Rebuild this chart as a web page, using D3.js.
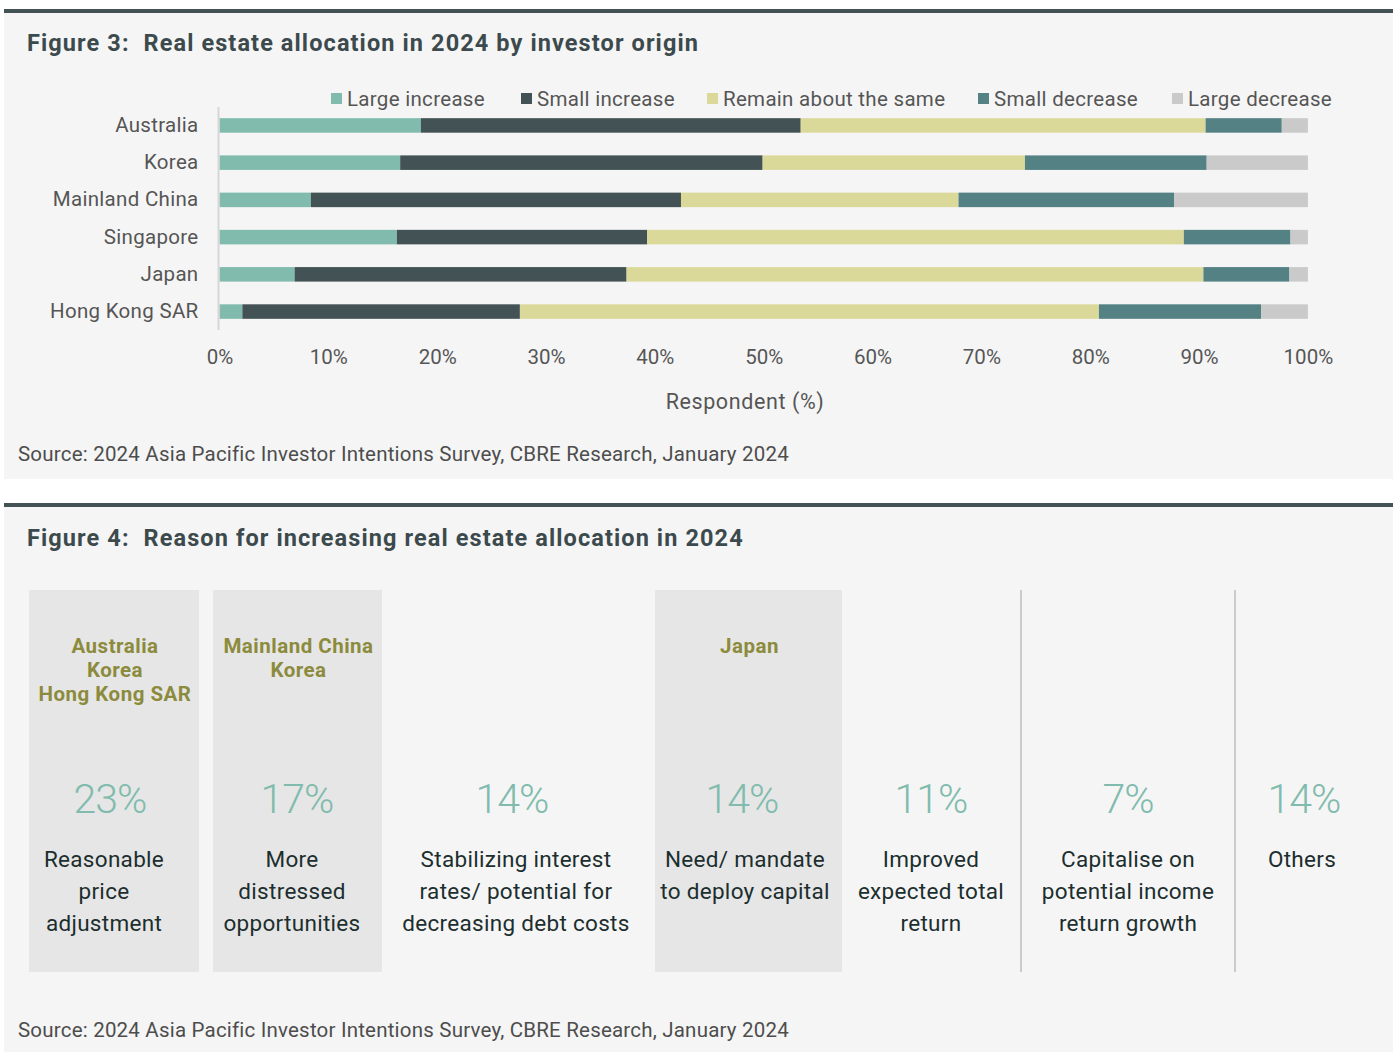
<!DOCTYPE html>
<html>
<head>
<meta charset="utf-8">
<script src="https://cdn.jsdelivr.net/npm/d3@7"></script>
<style>
  html, body { margin: 0; padding: 0; background: #ffffff; }
  svg { display: block; font-family: Roboto, "Open Sans", sans-serif; }
</style>
</head>
<body>
<svg id="chart" width="1396" height="1056"></svg>
<script>
// ---------- Data: Figure 3 ----------
const countries = ["Australia", "Korea", "Mainland China", "Singapore", "Japan", "Hong Kong SAR"];
const seriesNames = ["Large increase", "Small increase", "Remain about the same", "Small decrease", "Large decrease"];
const largeIncrease  = [18.5, 16.6,  8.4, 16.3,  6.9,  2.1];
const smallIncrease  = [34.9, 33.3, 34.0, 23.0, 30.5, 25.5];
const remainSame     = [37.2, 24.1, 25.5, 49.3, 53.0, 53.2];
const smallDecrease  = [ 7.0, 16.7, 19.8,  9.8,  7.9, 14.9];
const largeDecrease  = [ 2.4,  9.3, 12.3,  1.6,  1.7,  4.3];
const xTicks = [0, 10, 20, 30, 40, 50, 60, 70, 80, 90, 100];

// ---------- Data: Figure 4 ----------
const reasonPct = [23, 17, 14, 14, 11, 7, 14];
const reasonText = [
  ["Reasonable", "price", "adjustment"],
  ["More", "distressed", "opportunities"],
  ["Stabilizing interest", "rates/ potential for", "decreasing debt costs"],
  ["Need/ mandate", "to deploy capital"],
  ["Improved", "expected total", "return"],
  ["Capitalise on", "potential income", "return growth"],
  ["Others"]
];
const reasonCountries = [
  ["Australia", "Korea", "Hong Kong SAR"],
  ["Mainland China", "Korea"],
  [],
  ["Japan"],
  [],
  [],
  []
];

// ---------- Layout / style ----------
const colors = ["#80bbad", "#435254", "#dbd99a", "#538184", "#cacaca"];
const panelBg = "#f5f5f5";
const ruleColor = "#435254";
const titleColor = "#3c4a4d";
const labelColor = "#555555";

const svg = d3.select("#chart");

// Panels
const panels = [
  {y0: 12, y1: 479, rule: 9},
  {y0: 507, y1: 1052, rule: 503}
];
panels.forEach(p => {
  svg.append("rect").attr("x", 4).attr("y", p.y0).attr("width", 1389).attr("height", p.y1 - p.y0).attr("fill", panelBg);
  svg.append("rect").attr("x", 4).attr("y", p.rule).attr("width", 1389).attr("height", 4).attr("fill", ruleColor);
});

// Titles
[["Figure 3:\u00a0\u00a0Real estate allocation in 2024 by investor origin", 51],
 ["Figure 4:\u00a0\u00a0Reason for increasing real estate allocation in 2024", 546]].forEach(([t, ty]) => {
  svg.append("text").attr("x", 27).attr("y", ty).attr("fill", titleColor)
    .attr("font-size", 23.5).attr("font-weight", 700).attr("letter-spacing", 1.1)
    .text(t);
});

// Sources
[461, 1037].forEach(sy => {
  svg.append("text").attr("x", 18).attr("y", sy).attr("fill", "#4d4d4d")
    .attr("font-size", 20.5).attr("letter-spacing", 0.2)
    .text("Source: 2024 Asia Pacific Investor Intentions Survey, CBRE Research, January 2024");
});

// ---------- Figure 3: stacked bars ----------
const rows = countries.map((c, i) => ({
  country: c,
  "Large increase": largeIncrease[i],
  "Small increase": smallIncrease[i],
  "Remain about the same": remainSame[i],
  "Small decrease": smallDecrease[i],
  "Large decrease": largeDecrease[i]
}));

const x = d3.scaleLinear().domain([0, 100]).range([219.5, 1307.9]);
const y = d3.scaleBand().domain(countries).range([107, 330]).paddingInner(0.61).paddingOuter(0.3);
const color = d3.scaleOrdinal().domain(seriesNames).range(colors);

const stacked = d3.stack().keys(seriesNames)(rows);

const g3 = svg.append("g");
g3.selectAll("g.series").data(stacked).join("g").attr("class", "series")
  .attr("fill", d => color(d.key))
  .selectAll("rect").data(d => d).join("rect")
  .attr("x", d => x(d[0]))
  .attr("y", d => y(d.data.country))
  .attr("width", d => x(d[1]) - x(d[0]))
  .attr("height", y.bandwidth());

// y axis line
g3.append("line").attr("x1", 218.5).attr("x2", 218.5).attr("y1", y.range()[0]).attr("y2", y.range()[1])
  .attr("stroke", "#d6d6d6").attr("stroke-width", 2);

// y axis labels
const yAxis = d3.axisLeft(y).tickSize(0).tickPadding(20);
const yg = g3.append("g").attr("transform", "translate(218.5,0)").call(yAxis);
yg.select(".domain").remove();
yg.selectAll("text").attr("font-size", 20.5).attr("letter-spacing", 0.3).attr("fill", labelColor)
  .attr("font-family", "Roboto, sans-serif");

// x axis labels
const xAxis = d3.axisBottom(x).tickValues(xTicks).tickFormat(d => d + "%").tickSize(0).tickPadding(0);
const xg = g3.append("g").attr("transform", "translate(0,350)").call(xAxis);
xg.select(".domain").remove();
xg.selectAll("text").attr("font-size", 20.5).attr("fill", labelColor).attr("font-family", "Roboto, sans-serif")
  .attr("dy", "0.68em");

// x axis title
g3.append("text").attr("x", 745).attr("y", 401).attr("text-anchor", "middle")
  .attr("dominant-baseline", "central").attr("font-size", 21.5).attr("letter-spacing", 0.6).attr("fill", labelColor)
  .text("Respondent (%)");

// legend
const legendX = [331, 521, 707, 978, 1172];
const lg = g3.append("g");
seriesNames.forEach((name, i) => {
  lg.append("rect").attr("x", legendX[i]).attr("y", 93).attr("width", 11).attr("height", 11).attr("fill", color(name));
  lg.append("text").attr("x", legendX[i] + 16).attr("y", 99).attr("dominant-baseline", "central")
    .attr("font-size", 20.5).attr("letter-spacing", 0.3).attr("fill", labelColor).text(name);
});

// ---------- Figure 4: reason columns ----------
const colEdges = [[29, 199], [213, 382], [395, 635], [655, 842], [846, 1016], [1021, 1235], [1235, 1370]];
const colCenters = [110, 297, 512, 742, 931, 1128, 1304];
const descCenters = [104, 292, 516, 745, 931, 1128, 1302];
const boxTop = 590, boxBottom = 972;

const g4 = svg.append("g");
reasonPct.forEach((p, i) => {
  const [x0, x1] = colEdges[i];
  if (reasonCountries[i].length > 0) {
    g4.append("rect").attr("x", x0).attr("y", boxTop).attr("width", x1 - x0).attr("height", boxBottom - boxTop)
      .attr("fill", "#e6e6e6");
  }
  reasonCountries[i].forEach((c, j) => {
    g4.append("text").attr("x", (x0 + x1) / 2 + 1).attr("y", 646 + j * 24).attr("text-anchor", "middle")
      .attr("dominant-baseline", "central").attr("font-size", 20.5).attr("font-weight", 700)
      .attr("letter-spacing", 0.5).attr("fill", "#8c8b3d").text(c);
  });
  g4.append("text").attr("x", colCenters[i]).attr("y", 799).attr("text-anchor", "middle")
    .attr("dominant-baseline", "central").attr("font-size", 41).attr("font-weight", 300)
    .attr("letter-spacing", -1).attr("fill", "#80bbad").text(p + "%");
  reasonText[i].forEach((t, j) => {
    g4.append("text").attr("x", descCenters[i]).attr("y", 859 + j * 32).attr("text-anchor", "middle")
      .attr("dominant-baseline", "central").attr("font-size", 22.5).attr("letter-spacing", 0.3)
      .attr("fill", "#1c2e2e").text(t);
  });
});
// separators
[1021, 1235].forEach(sx => {
  g4.append("line").attr("x1", sx).attr("x2", sx).attr("y1", boxTop).attr("y2", boxBottom)
    .attr("stroke", "#cbcbcb").attr("stroke-width", 2);
});
</script>
</body>
</html>
